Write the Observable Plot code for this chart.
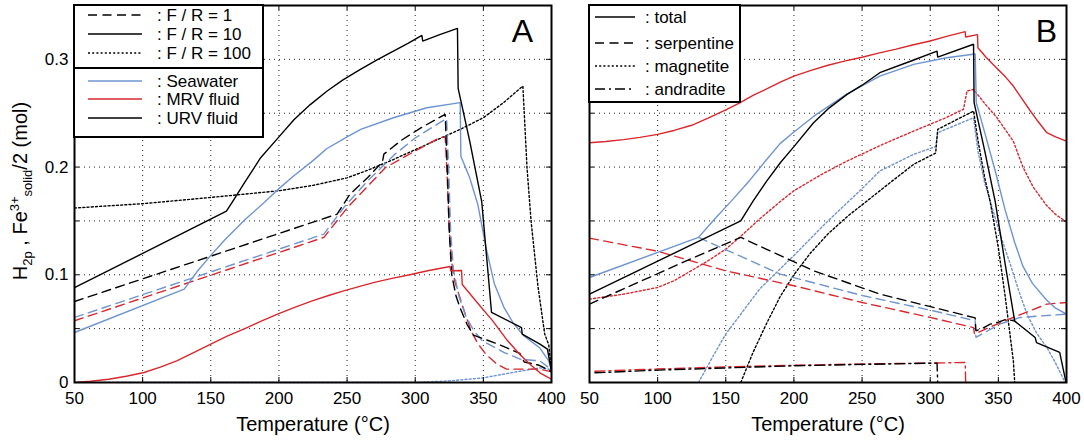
<!DOCTYPE html>
<html><head><meta charset="utf-8">
<script src="https://cdn.jsdelivr.net/npm/d3@7"></script>
<script src="https://cdn.jsdelivr.net/npm/@observablehq/plot@0.6"></script>
<style>
body{margin:0;background:#fff;font-family:"Liberation Sans",Arial,Helvetica,sans-serif;}
#wrap{position:relative;width:1084px;height:447px;overflow:hidden;background:#fff;}
.panel{position:absolute;top:0;}
.overlay{position:absolute;left:0;top:0;pointer-events:none;}
</style></head><body><div id="wrap"></div>
<script>
// ---- axis ticks ----
const xTicks = [50,100,150,200,250,300,350,400];
const xGrid = [100,150,200,250,300,350];
const yTicks = [0,0.1,0.2,0.3];
const yTickLabels = ["0","0.1","0.2","0.3"];
const yGrid = [0.05,0.1,0.15,0.2,0.25,0.3];

// ---- Panel A: [T (°C), mol] ----
const A_urv_1 = [[50,0.0752],[242.7,0.1563],[252,0.1746],[265,0.19],[276,0.205],[277,0.212],[290,0.225],[305,0.237],[322,0.249],[323.5,0.2],[325,0.14],[326.8,0.1],[330,0.08],[333,0.069],[338,0.054],[342.7,0.044],[360,0.036],[376.8,0.027],[380,0.019],[391,0.016],[400,0.01]];
const A_urv_10 = [[50,0.088],[161.5,0.159],[166,0.168],[175,0.186],[186.6,0.2087],[200,0.228],[211,0.244],[223,0.258],[235.4,0.2706],[247,0.281],[259.8,0.2907],[272,0.2995],[284,0.3077],[295,0.315],[304.9,0.3223],[305.5,0.317],[318,0.323],[331,0.3288],[331.5,0.273],[340,0.224],[348.8,0.168],[356,0.065],[378,0.051],[378.5,0.045],[391.5,0.0356],[397,0.031],[400,0.01]];
const A_urv_100 = [[50,0.162],[100,0.166],[150,0.1718],[200,0.178],[225,0.183],[250,0.19],[265,0.197],[284,0.207],[308.5,0.221],[333,0.235],[350,0.2458],[365,0.26],[379,0.2752],[382,0.2],[385,0.15],[390,0.09],[395,0.045],[398,0.035],[400,0.01]];
const A_sw_1 = [[50,0.0604],[233,0.1378],[247.6,0.1625],[265,0.187],[285,0.2118],[300,0.227],[318,0.2412],[323,0.245],[324.5,0.2],[326,0.14],[328,0.105],[332,0.08],[337,0.062],[343,0.048],[349,0.039],[365,0.028],[377,0.0217],[391.5,0.02],[400,0.012]];
const A_sw_10 = [[50,0.0464],[130.5,0.0867],[140,0.103],[150,0.118],[160,0.132],[175,0.151],[190,0.168],[200,0.18],[211,0.192],[225,0.206],[235,0.217],[250,0.228],[260,0.235],[284,0.2458],[308.5,0.2551],[333,0.2598],[333.5,0.21],[340,0.19],[346,0.165],[352,0.125],[358,0.092],[365,0.07],[372,0.055],[380,0.043],[391.5,0.032],[398,0.02],[400,0.012]];
const A_sw_100 = [[50,0],[300,0],[325,0.0015],[350,0.0043],[377,0.0105],[391.5,0.0136],[400,0.012]];
const A_mrv_1 = [[50,0.0573],[233,0.1347],[250,0.162],[278,0.1994],[300,0.215],[318,0.2272],[322,0.228],[323.5,0.19],[325,0.14],[327,0.11],[329,0.094],[335,0.07],[341,0.048],[346,0.036],[352,0.026],[360,0.017],[367,0.0124],[391.5,0.0124],[400,0.01]];
const A_mrv_10 = [[50,0],[62,0.0012],[75,0.003],[88,0.0058],[101,0.0093],[113,0.0142],[125,0.02],[137,0.0275],[150,0.0356],[162,0.043],[175,0.05],[187,0.057],[199,0.0635],[212,0.07],[225,0.076],[237,0.081],[247.6,0.0851],[260,0.0895],[270,0.093],[283,0.0967],[296,0.1],[310,0.104],[325.6,0.1077],[326,0.1037],[334,0.104],[334.5,0.091],[345,0.075],[357,0.057],[367,0.04],[376.8,0.026],[385,0.016],[391.5,0.009],[400,0.003]];

// ---- Panel B: [T (°C), mol] ----
const B_urv_total = [[50,0.082],[161,0.15],[170,0.1684],[180,0.187],[190,0.204],[200,0.219],[214.4,0.2412],[225,0.254],[239,0.2675],[250,0.276],[263,0.2876],[285,0.298],[305,0.3077],[305.5,0.302],[331.8,0.314],[332.2,0.2598],[340,0.215],[347.7,0.168],[355,0.11],[362,0.057],[377,0.0418],[378,0.037],[395,0.0279],[399.5,0.001]];
const B_urv_serp = [[50,0.0728],[124,0.1146],[161,0.1347],[214.4,0.1037],[263.3,0.082],[302.4,0.0697],[333,0.06],[333.5,0.048],[338,0.05],[344,0.0542],[350,0.056],[356,0.0588],[362,0.057]];
const B_urv_mag = [[161,0],[170,0.028],[180,0.055],[190,0.08],[200,0.1],[212,0.12],[225,0.138],[240,0.155],[253.5,0.1684],[270,0.185],[287.8,0.2025],[304,0.213],[305.5,0.235],[331.8,0.252],[335,0.225],[340,0.19],[344,0.168],[350,0.125],[355,0.08],[358,0.05],[361,0.02],[362,0]];
const B_urv_and = [[54,0.009],[100,0.0115],[150,0.0135],[200,0.0155],[250,0.0168],[305,0.018],[305.5,0]];
const B_sw_total = [[50,0.0975],[130,0.1347],[142,0.152],[154,0.1684],[167.5,0.1876],[180,0.207],[190,0.222],[200,0.2325],[214.4,0.247],[239,0.268],[263,0.2845],[287.8,0.2954],[312,0.3015],[333,0.305],[333.8,0.26],[340,0.232],[348,0.195],[355,0.16],[362,0.13],[368,0.108],[375,0.092],[385,0.077],[392,0.069],[400,0.0635]];
const B_sw_serp = [[130,0.1347],[190,0.1006],[251,0.0805],[302,0.0666],[333,0.0573],[333.5,0.0418],[351,0.0542],[366,0.0604],[400,0.0635]];
const B_sw_mag = [[130,0],[140,0.023],[150,0.045],[175,0.087],[200,0.118],[225,0.15],[250,0.18],[263,0.1963],[287.8,0.2118],[304,0.219],[305.5,0.2319],[331.8,0.2458],[335,0.215],[340,0.185],[346,0.16],[352,0.135],[358.7,0.11],[365,0.085],[371,0.0635],[378,0.046],[385.6,0.0325],[392,0.018],[399,0]];
const B_mrv_total = [[50,0.2226],[62,0.2238],[75,0.2255],[87,0.2276],[100,0.2303],[112,0.234],[125,0.2388],[137,0.2455],[150,0.253],[160.6,0.2598],[170,0.2665],[180,0.2725],[190,0.2788],[200,0.2845],[212,0.2895],[225,0.2945],[237,0.2983],[250,0.302],[262,0.3058],[275,0.3095],[287,0.3133],[300,0.317],[312,0.3213],[325.7,0.3257],[326,0.3207],[334.7,0.323],[335,0.3108],[341,0.302],[348,0.293],[355,0.284],[361,0.2752],[367,0.264],[373,0.253],[379,0.2425],[385.6,0.2319],[392,0.228],[400,0.2241]];
const B_mrv_serp = [[50,0.134],[99.5,0.122],[150,0.1037],[200,0.0898],[250,0.0743],[300,0.0604],[331.8,0.051],[332.5,0.0449],[345,0.052],[361,0.0604],[385.6,0.0728],[400,0.0743]];
const B_mrv_mag = [[50,0.0774],[75,0.082],[100,0.0882],[112,0.0945],[125,0.104],[137,0.113],[150,0.1238],[162,0.137],[175,0.152],[190,0.168],[200,0.178],[220,0.193],[239,0.2056],[265,0.221],[287.8,0.2334],[310,0.245],[324.4,0.2536],[327,0.2706],[331.8,0.2721],[340,0.259],[349,0.2458],[361,0.224],[368,0.2],[375.8,0.181],[385,0.165],[392,0.156],[400,0.149]];
const B_mrv_and = [[54,0.0105],[100,0.0125],[150,0.0145],[200,0.016],[250,0.0172],[300,0.018],[325.7,0.0186],[326,0]];

// ---- legend texts ----
const legendA1 = [": F / R = 1", ": F / R = 10", ": F / R = 100"];
const legendA2 = [": Seawater", ": MRV fluid", ": URV fluid"];
const legendB = [": total", ": serpentine", ": magnetite", ": andradite"];

// ---- styles ----
const BLUE = "#6e94d2", RED = "#d8272d", BLACK = "#000";
const DASH = "9,5.5", DOT = "2,2.2", DASHDOT = "10,4,2,4";

const seriesA = [
  [A_sw_100, BLUE, DOT], [A_urv_100, BLACK, DOT],
  [A_mrv_1, RED, DASH], [A_sw_1, BLUE, DASH], [A_urv_1, BLACK, DASH],
  [A_mrv_10, RED, null], [A_sw_10, BLUE, null], [A_urv_10, BLACK, null]
];
const seriesB = [
  [B_mrv_and, RED, DASHDOT], [B_urv_and, BLACK, DASHDOT],
  [B_mrv_mag, RED, DOT], [B_sw_mag, BLUE, DOT], [B_urv_mag, BLACK, DOT],
  [B_mrv_serp, RED, DASH], [B_sw_serp, BLUE, DASH], [B_urv_serp, BLACK, DASH],
  [B_mrv_total, RED, null], [B_sw_total, BLUE, null], [B_urv_total, BLACK, null]
];

const FONT = '"Liberation Sans", Arial, Helvetica, sans-serif';

function panel({series, width, ml, mr, showY, letter, ldx}) {
  const marks = [
    Plot.gridX(xGrid, {stroke: "#222", strokeOpacity: 1, strokeWidth: 1, strokeDasharray: "1,4"}),
    Plot.gridY(yGrid, {stroke: "#222", strokeOpacity: 1, strokeWidth: 1, strokeDasharray: "1,4"}),
    ...series.map(([data, color, dash]) => Plot.line(data, {
      x: d => d[0], y: d => d[1], stroke: color, strokeWidth: 1.4,
      strokeDasharray: dash || undefined, clip: true, strokeLinejoin: "miter"
    })),
    Plot.tickX(xTicks, {x: d => d, insetTop: 372, stroke: BLACK, strokeWidth: 1}),
    Plot.tickX(xTicks, {x: d => d, insetBottom: 372, stroke: BLACK, strokeWidth: 1}),
    Plot.tickY(yGrid, {y: d => d, insetRight: 472, stroke: BLACK, strokeWidth: 1}),
    Plot.tickY(yGrid, {y: d => d, insetLeft: 472, stroke: BLACK, strokeWidth: 1}),
    Plot.frame({stroke: BLACK, strokeWidth: 2}),
    Plot.axisX(xTicks, {tickSize: 0, tickPadding: 9, fontSize: 17, label: null}),
    Plot.text(["Temperature (°C)"], {text: d => d, frameAnchor: "bottom", dy: 48, fontSize: 20}),
    Plot.text([letter], {text: d => d, frameAnchor: "top-right", dx: ldx, dy: 26, fontSize: 32, textAnchor: "middle", lineAnchor: "middle"})
  ];
  if (showY) marks.push(Plot.axisY(yTicks, {tickSize: 0, tickPadding: 6, fontSize: 17, label: null,
    tickFormat: d => yTickLabels[yTicks.indexOf(d)]}));
  return Plot.plot({
    width, height: 447, marginLeft: ml, marginRight: mr, marginTop: 5, marginBottom: 65,
    x: {domain: [50, 400], axis: null},
    y: {domain: [0, 0.35], axis: null},
    style: {fontFamily: FONT, color: "#000", background: "transparent", overflow: "visible"},
    marks
  });
}

const wrap = document.getElementById("wrap");
const pA = panel({series: seriesA, width: 560, ml: 74, mr: 9, showY: true, letter: "A", ldx: -29});
pA.classList.add("panel"); pA.style.left = "0px";
wrap.appendChild(pA);
const pB = panel({series: seriesB, width: 524, ml: 29, mr: 18, showY: false, letter: "B", ldx: -20});
pB.classList.add("panel"); pB.style.left = "560px";
wrap.appendChild(pB);

// ---- overlay: legends and y label ----
const NS = "http://www.w3.org/2000/svg";
const ov = document.createElementNS(NS, "svg");
ov.setAttribute("class", "overlay");
ov.setAttribute("width", 1084); ov.setAttribute("height", 447);
ov.setAttribute("font-family", FONT);
function el(tag, attrs, parent = ov) {
  const e = document.createElementNS(NS, tag);
  for (const k in attrs) e.setAttribute(k, attrs[k]);
  parent.appendChild(e); return e;
}
// legend A
el("rect", {x: 74, y: 5, width: 189, height: 132, fill: "#fff", stroke: "#000", "stroke-width": 2});
el("line", {x1: 74, x2: 263, y1: 68, y2: 68, stroke: "#000", "stroke-width": 2});
const styA1 = [DASH, null, DOT];
const yA1 = [15, 34, 53];
legendA1.forEach((t, i) => {
  el("line", {x1: 88, x2: 142, y1: yA1[i], y2: yA1[i], stroke: BLACK, "stroke-width": 1.4, ...(styA1[i] ? {"stroke-dasharray": styA1[i]} : {})});
  const tx = el("text", {x: 157, y: yA1[i] + 6, "font-size": 17}); tx.textContent = t;
});
const colA2 = [BLUE, RED, BLACK];
const yA2 = [81, 99, 118];
legendA2.forEach((t, i) => {
  el("line", {x1: 88, x2: 142, y1: yA2[i], y2: yA2[i], stroke: colA2[i], "stroke-width": 1.4});
  const tx = el("text", {x: 157, y: yA2[i] + 6, "font-size": 17}); tx.textContent = t;
});
// legend B
el("rect", {x: 589, y: 5, width: 151, height: 97, fill: "#fff", stroke: "#000", "stroke-width": 2});
const styB = [null, DASH, DOT, DASHDOT];
const yB = [17, 43, 66, 89];
legendB.forEach((t, i) => {
  el("line", {x1: 595, x2: 635, y1: yB[i], y2: yB[i], stroke: BLACK, "stroke-width": 1.4, ...(styB[i] ? {"stroke-dasharray": styB[i]} : {})});
  const tx = el("text", {x: 645, y: yB[i] + 6, "font-size": 17}); tx.textContent = t;
});
// y label
const yl = el("text", {transform: "translate(27,191) rotate(-90)", "text-anchor": "middle", "font-size": 20});
function ts(txt, attrs) { const s = el("tspan", attrs, yl); s.textContent = txt; return s; }
ts("H", {});
ts("2p", {"font-size": 13, dy: 5});
ts(" , Fe", {dy: -5});
ts("3+", {"font-size": 13, dy: -8});
ts("solid", {"font-size": 13, dy: 13});
ts("/2 (mol)", {dy: -5});
wrap.appendChild(ov);
</script>
</body></html>
